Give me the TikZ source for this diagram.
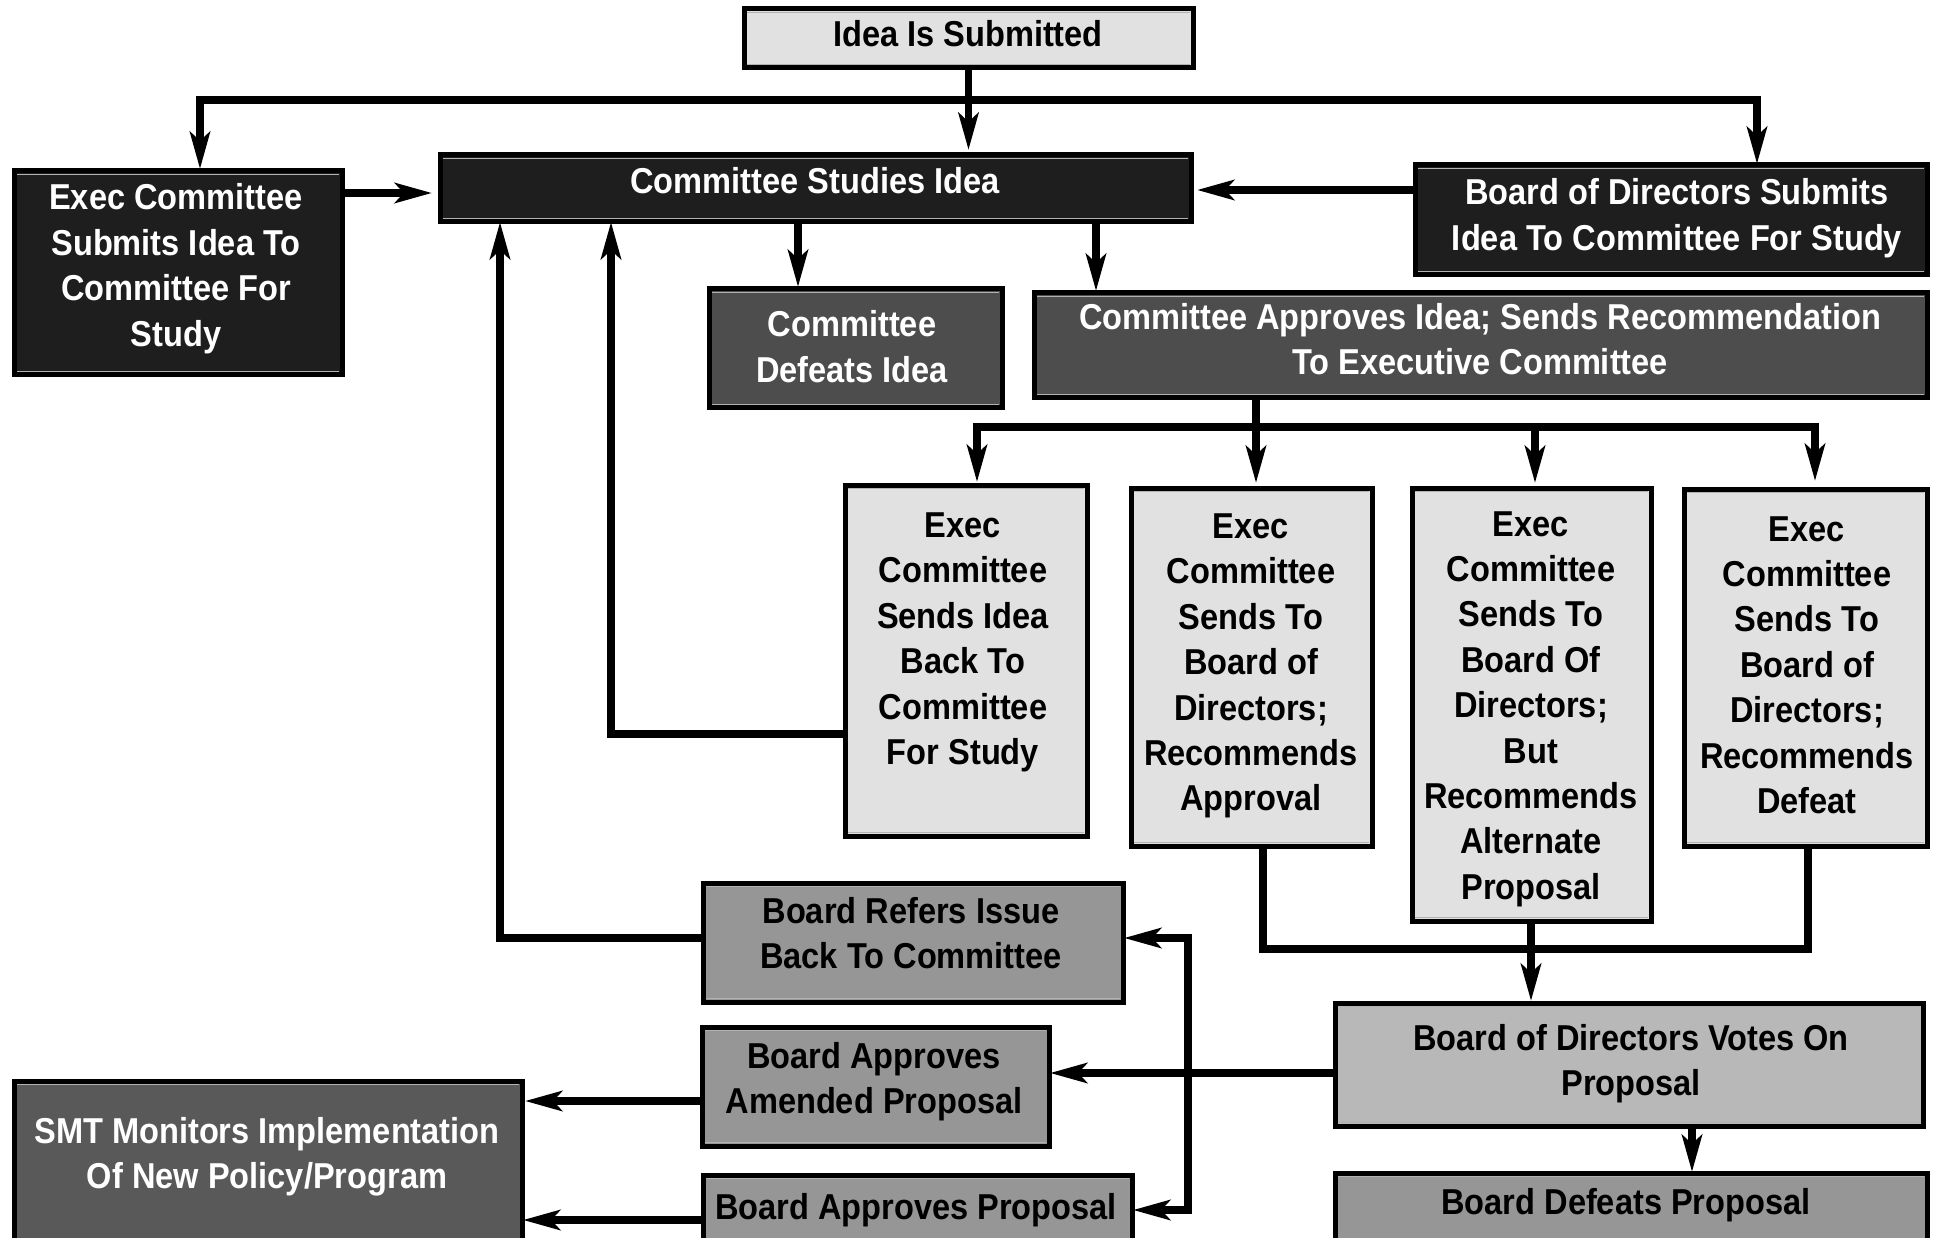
\documentclass[tikz,border=0pt]{standalone}
\usepackage{fontspec}
\setmainfont{Liberation Sans}[FakeStretch=0.905]
\usetikzlibrary{arrows.meta,calc}
\definecolor{cLight}{HTML}{E1E1E1}
\definecolor{cBlack}{HTML}{1E1E1E}
\definecolor{cDark}{HTML}{4D4D4D}
\definecolor{cSmt}{HTML}{595959}
\definecolor{cMid}{HTML}{969696}
\definecolor{cVote}{HTML}{B8B8B8}
\newcommand{\tstrut}{\rule{0pt}{30pt}}
\newcommand{\mybox}[6]{%
  \node[boxbase, fill=#6, anchor=north west, minimum width={(#4-#2)*1pt}, minimum height={(#5-#3)*1pt}] (#1) at (#2,#3) {};
  \draw[gray!60, line width=1.5pt] ($(#1.north west)+(3,3.6)$) -- ($(#1.north east)+(-3,3.6)$);
  \draw[gray!60, line width=1.5pt] ($(#1.south west)+(3,-3.6)$) -- ($(#1.south east)+(-3,-3.6)$);
}
\begin{document}
\begin{tikzpicture}[x=1pt,y=-1pt,
  boxbase/.style={draw=black, line width=5pt, inner sep=0pt, outer sep=0pt, rectangle},
  txt/.style={inner sep=0pt, align=center, anchor=north, font=\bfseries\fontsize{36}{45.4}\selectfont},
  wtxt/.style={txt, text=white},
  ln/.style={line width=7.5pt, line join=miter, line cap=butt},
  arr/.style={ln, -{Stealth[length=37pt,width=20pt,inset=9pt]}}]
\useasboundingbox (0,0) rectangle (1939,1238);
\clip (0,0) rectangle (1939,1238);
\fill[white] (0,0) rectangle (1939,1238);

% boxes
\mybox{idea}{744}{9}{1193}{68}{cLight}
\mybox{cstudy}{440}{155}{1191}{222}{cBlack}
\mybox{execsub}{14}{171}{342}{375}{cBlack}
\mybox{boardsub}{1415}{165}{1927}{275}{cBlack}
\mybox{cdefeat}{709}{289}{1002}{408}{cDark}
\mybox{capprove}{1034}{293}{1927}{398}{cDark}
\mybox{e1}{845}{485}{1087}{836}{cLight}
\mybox{e2}{1131}{488}{1372}{846}{cLight}
\mybox{e3}{1412}{488}{1651}{921}{cLight}
\mybox{e4}{1684}{489}{1927}{846}{cLight}
\mybox{refer}{703}{883}{1123}{1002}{cMid}
\mybox{amended}{702}{1027}{1049}{1146}{cMid}
\mybox{smt}{14}{1081}{522}{1260}{cSmt}
\mybox{approve}{703}{1175}{1132}{1260}{cMid}
\mybox{votes}{1335}{1003}{1923}{1126}{cVote}
\mybox{bdefeat}{1335}{1173}{1927}{1260}{cMid}

% texts
\node[txt] (t-idea) at (968,16.3) {\tstrut Idea Is Submitted};
\node[wtxt] (t-cstudy) at (815,163.3) {\tstrut Committee Studies Idea};
\node[wtxt] (t-execsub) at (176,179.8) {\tstrut Exec Committee\\Submits Idea To\\Committee For\\Study};
\node[wtxt] (t-boardsub) at (1677,174.8) {\tstrut Board of Directors Submits\\Idea To Committee For Study};
\node[wtxt] (t-cdefeat) at (852,306.8) {\tstrut Committee\\Defeats Idea};
\node[wtxt] (t-capprove) at (1480,299.3) {\tstrut Committee Approves Idea; Sends Recommendation\\To Executive Committee};
\node[txt] (t-e1) at (963,507.3) {\tstrut Exec\\Committee\\Sends Idea\\Back To\\Committee\\For Study};
\node[txt] (t-e2) at (1251,508.3) {\tstrut Exec\\Committee\\Sends To\\Board of\\Directors;\\Recommends\\Approval};
\node[txt] (t-e3) at (1531,505.8) {\tstrut Exec\\Committee\\Sends To\\Board Of\\Directors;\\But\\Recommends\\Alternate\\Proposal};
\node[txt] (t-e4) at (1807,510.8) {\tstrut Exec\\Committee\\Sends To\\Board of\\Directors;\\Recommends\\Defeat};
\node[txt] (t-refer) at (911,892.8) {\tstrut Board Refers Issue\\Back To Committee};
\node[txt] (t-amended) at (874,1037.8) {\tstrut Board Approves\\Amended Proposal};
\node[wtxt] (t-smt) at (267,1112.8) {\tstrut SMT Monitors Implementation\\Of New Policy/Program};
\node[txt] (t-approve) at (916,1188.8) {\tstrut Board Approves Proposal};
\node[txt] (t-votes) at (1631,1020.3) {\tstrut Board of Directors Votes On\\Proposal};
\node[txt] (t-bdefeat) at (1626,1183.8) {\tstrut Board Defeats Proposal};

% helper coordinates
\coordinate (busL) at (200,100);
\coordinate (busR) at (1757,100);
\coordinate (y193) at (0,193);
\coordinate (y190) at (0,190);
\coordinate (x798) at (798,0);
\coordinate (x1096) at (1096,0);
\coordinate (b2L) at (977,427);
\coordinate (b2R) at (1815,427);
\coordinate (b2M) at (1256,427);
\coordinate (b2N) at (1535,427);
\coordinate (k1) at (611,734);
\coordinate (k2) at (500,938);
\coordinate (j1) at (1263,949);
\coordinate (j2) at (1808,949);
\coordinate (x1531) at (1531,0);
\coordinate (y1073) at (0,1073);
\coordinate (v1) at (1188,938);
\coordinate (v2) at (1188,1210);
\coordinate (y1101) at (0,1101);
\coordinate (y1220) at (0,1220);
\coordinate (x1692) at (1692,0);

% connectors
\draw[arr, shorten >=5pt] (idea.south) -- (idea.south |- cstudy.north);
\draw[arr, shorten >=2pt] (busR) -- (busL) -- (busL |- execsub.north);
\draw[arr, shorten >=1pt] (busL) -- (busR) -- (busR |- boardsub.north);
\draw[arr, shorten >=8pt] (execsub.east |- y193) -- (cstudy.west |- y193);
\draw[arr, shorten >=6pt] (boardsub.west |- y190) -- (cstudy.east |- y190);
\draw[arr, shorten >=2pt] (cstudy.south -| x798) -- (cdefeat.north -| x798);
\draw[arr, shorten >=2pt] (cstudy.south -| x1096) -- (capprove.north -| x1096);
\draw[ln] (capprove.south -| b2M) -- (b2M);
\draw[arr, shorten >=3pt] (b2R) -- (b2L) -- (b2L |- e1.north);
\draw[arr, shorten >=8pt] (b2L) -- (b2R) -- (b2R |- e4.north);
\draw[arr, shorten >=5pt] (b2M) -- (b2M |- e2.north);
\draw[arr, shorten >=5pt] (b2N) -- (b2N |- e3.north);
\draw[arr] (e1.west |- k1) -- (k1) -- (k1 |- cstudy.south);
\draw[arr] (refer.west |- k2) -- (k2) -- (k2 |- cstudy.south);
\draw[ln] (e2.south -| j1) -- (j1) -- (j2) -- (e4.south -| j2);
\draw[arr, shorten >=2pt] (e3.south -| x1531) -- (votes.north -| x1531);
\draw[arr, shorten >=1pt] (votes.west |- y1073) -- (amended.east |- y1073);
\draw[arr, shorten >=1pt] (v2) -- (v1) -- (refer.east |- v1);
\draw[arr, shorten >=1pt] (v1) -- (v2) -- (approve.east |- v2);
\draw[arr, shorten >=3pt] (amended.west |- y1101) -- (smt.east |- y1101);
\draw[arr, shorten >=1pt] (approve.west |- y1220) -- (smt.east |- y1220);
\draw[arr, shorten >=1pt] (votes.south -| x1692) -- (bdefeat.north -| x1692);
\end{tikzpicture}
\end{document}
